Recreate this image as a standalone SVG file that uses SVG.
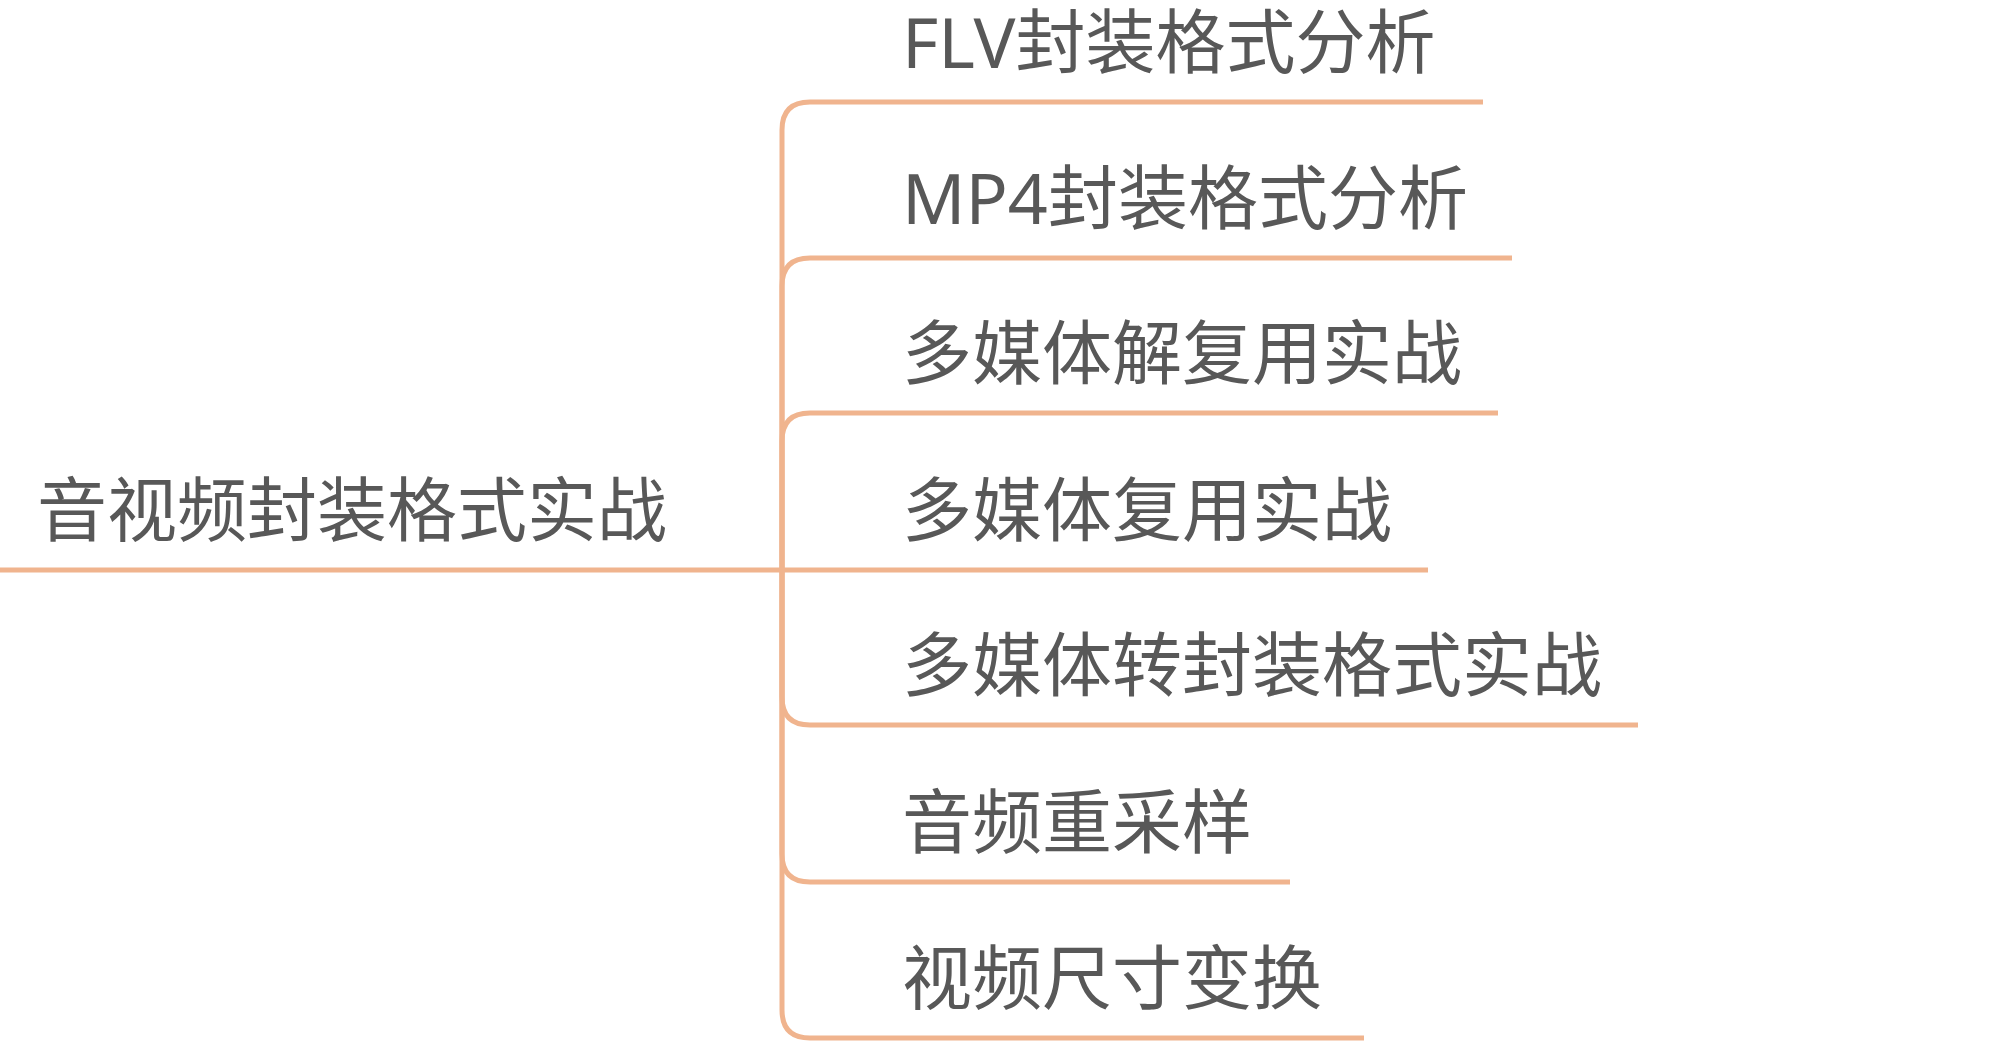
<svg xmlns="http://www.w3.org/2000/svg" width="2000" height="1062" viewBox="0 0 2000 1062">
<style>
.c{fill:none;stroke:#F0B48E;stroke-width:5;stroke-linecap:butt}
.t{font-family:"Noto Sans","Noto Sans CJK SC",sans-serif;font-size:70px;fill:#585858}
</style>
<rect width="2000" height="1062" fill="#ffffff"/>
<g id="connectors">
<path class="c" d="M0,570 H1428"/>
<path class="c" d="M782,570 V130 Q782,102 810,102 H1483"/>
<path class="c" d="M782,570 V286 Q782,258 810,258 H1512"/>
<path class="c" d="M782,570 V441 Q782,413 810,413 H1498"/>
<path class="c" d="M782,570 V697 Q782,725 810,725 H1638"/>
<path class="c" d="M782,570 V854 Q782,882 810,882 H1290"/>
<path class="c" d="M782,570 V1010 Q782,1038 810,1038 H1364"/>
</g>
<g id="root"><text class="t" x="37" y="536">音视频封装格式实战</text></g>
<g id="n1"><text class="t" x="902" y="68">FLV封装格式分析</text></g>
<g id="n2"><text class="t" x="902" y="224">MP4封装格式分析</text></g>
<g id="n3"><text class="t" x="902" y="379">多媒体解复用实战</text></g>
<g id="n4"><text class="t" x="902" y="536">多媒体复用实战</text></g>
<g id="n5"><text class="t" x="902" y="691">多媒体转封装格式实战</text></g>
<g id="n6"><text class="t" x="902" y="848">音频重采样</text></g>
<g id="n7"><text class="t" x="902" y="1004">视频尺寸变换</text></g>
</svg>
